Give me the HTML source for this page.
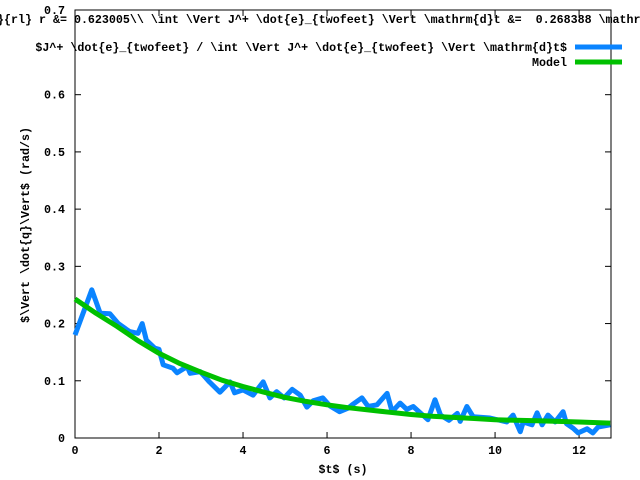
<!DOCTYPE html>
<html><head><meta charset="utf-8"><style>
html,body{margin:0;padding:0;background:#fff;}
svg{display:block;font-family:"Liberation Mono","DejaVu Sans Mono",monospace;font-size:11.67px;font-weight:bold;}
</style></head><body>
<svg id="chart" width="640" height="480" viewBox="0 0 640 480" xmlns="http://www.w3.org/2000/svg">
<text x="-3" y="23" style="white-space:pre" xml:space="preserve">}{rl} r &amp;= 0.623005\\ \int \Vert J^+ \dot{e}_{twofeet} \Vert \mathrm{d}t &amp;=  0.268388 \mathrm</text>
<rect x="75" y="10" width="536" height="428" fill="none" stroke="#000" stroke-width="1"/>
<g id="axes"></g>
<g id="series"></g>
<text transform="translate(29,225) rotate(-90)" text-anchor="middle">$\Vert \dot{q}\Vert$ (rad/s)</text>
<text x="343" y="473" text-anchor="middle">$t$ (s)</text>
<text x="567" y="51" text-anchor="end">$J^+ \dot{e}_{twofeet} / \int \Vert J^+ \dot{e}_{twofeet} \Vert \mathrm{d}t$</text>
<line x1="575" y1="47" x2="622" y2="47" stroke="#0a84ff" stroke-width="5"/>
<text x="567" y="66" text-anchor="end">Model</text>
<line x1="575" y1="62" x2="622" y2="62" stroke="#00c000" stroke-width="5"/>
</svg>
<script>
const xTicks=[0,2,4,6,8,10,12];
const yTicks=[0,0.1,0.2,0.3,0.4,0.5,0.6];
const yTickLabels=["0","0.1","0.2","0.3","0.4","0.5","0.6"];
const dataT=[0,0.4,0.6,0.83,1.03,1.3,1.5,1.6,1.7,1.9,2.0,2.1,2.33,2.43,2.67,2.74,2.98,3.2,3.45,3.69,3.8,4.0,4.24,4.48,4.64,4.8,4.98,5.17,5.36,5.52,5.67,5.9,6.07,6.3,6.5,6.6,6.83,6.98,7.19,7.43,7.55,7.74,7.9,8.05,8.4,8.57,8.7,8.9,9.1,9.17,9.33,9.48,9.88,10.28,10.43,10.6,10.67,10.88,11.0,11.12,11.26,11.43,11.62,11.7,11.86,11.98,12.19,12.33,12.45,12.74];
const dataV=[0.18,0.259,0.218,0.217,0.2,0.186,0.183,0.2,0.171,0.157,0.155,0.128,0.122,0.114,0.125,0.113,0.116,0.098,0.08,0.098,0.079,0.084,0.075,0.098,0.07,0.081,0.07,0.085,0.075,0.054,0.065,0.07,0.056,0.046,0.052,0.058,0.07,0.055,0.058,0.078,0.046,0.061,0.05,0.055,0.032,0.067,0.04,0.031,0.043,0.029,0.055,0.037,0.035,0.028,0.04,0.011,0.028,0.023,0.044,0.023,0.04,0.028,0.046,0.025,0.017,0.009,0.016,0.009,0.019,0.023];
const modelT=[0,0.5,1,1.5,2,2.5,3,3.5,4,4.5,5,5.5,6,6.5,7,7.5,8,8.5,9,9.5,10,10.5,11,11.5,12,12.74];
const modelV=[0.243,0.218,0.195,0.17,0.148,0.13,0.115,0.101,0.09,0.08,0.071,0.064,0.058,0.053,0.049,0.045,0.041,0.038,0.036,0.034,0.032,0.031,0.03,0.029,0.028,0.026];
const X0=75,X1=611,Y0=438,Y1=10,XMAX=12.76,YMAX=0.748;
function sx(t){return X0+(X1-X0)*t/XMAX;}
function sy(v){return Y0-(Y0-Y1)*v/YMAX;}
const NS="http://www.w3.org/2000/svg";
const axesG=document.getElementById('axes');
const seriesG=document.getElementById('series');
function mk(tag,attrs,parent){const e=document.createElementNS(NS,tag);for(const k in attrs)e.setAttribute(k,attrs[k]);parent.appendChild(e);return e;}
xTicks.forEach(t=>{
  const x=sx(t);
  const a=mk('line',{x1:x,y1:Y0,x2:x,y2:Y0-6,stroke:'#000'},axesG);
  
  
  const b=mk('line',{x1:x,y1:Y1,x2:x,y2:Y1+6,stroke:'#000'},axesG);
  
  
  const l=mk('text',{x:x,y:Y0+16,'text-anchor':'middle'},axesG);
  l.textContent=String(t);
  
  
});
yTicks.forEach((v,i)=>{
  const y=sy(v);
  const a=mk('line',{x1:X0,y1:y,x2:X0+6,y2:y,stroke:'#000'},axesG);
  
  
  const b=mk('line',{x1:X1,y1:y,x2:X1-6,y2:y,stroke:'#000'},axesG);
  
  
  const l=mk('text',{x:X0-10,y:y+4,'text-anchor':'end'},axesG);
  l.textContent=yTickLabels[i];
  
  
});
const topLabel=mk('text',{x:X0-10,y:14,'text-anchor':'end'},axesG);
topLabel.textContent="0.7";


function pts(T,V){return T.map((t,i)=>sx(t).toFixed(1)+','+sy(V[i]).toFixed(1)).join(' ');}
const dataLine=mk('polyline',{points:pts(dataT,dataV),fill:'none',stroke:'#0a84ff','stroke-width':5,'stroke-linejoin':'round'},seriesG);


const modelLine=mk('polyline',{points:pts(modelT,modelV),fill:'none',stroke:'#00c000','stroke-width':5,'stroke-linejoin':'round'},seriesG);


</script>
</body></html>
